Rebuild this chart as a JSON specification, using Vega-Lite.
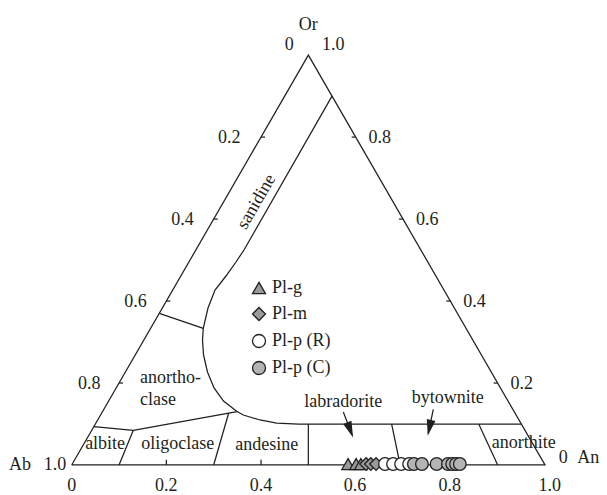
{
  "$schema": "https://vega.github.io/schema/vega-lite/v6.json",
  "width": 607,
  "height": 495,
  "autosize": "none",
  "padding": 0,
  "background": "white",
  "config": {
    "view": {"stroke": null},
    "text": {"font": "Liberation Serif", "fontSize": 18, "color": "#231f20"}
  },
  "datasets": {
    "lines": [
      {"g": "tri", "o": 1, "x": 0, "y": 0},
      {"g": "tri", "o": 2, "x": 1, "y": 0},
      {"g": "tri", "o": 3, "x": 0.5, "y": 0.866},
      {"g": "tri", "o": 4, "x": 0, "y": 0},
      {"g": "san", "o": 1, "x": 0.55, "y": 0.7794},
      {"g": "san", "o": 2, "x": 0.364, "y": 0.4543},
      {"g": "san", "o": 3, "x": 0.3471, "y": 0.4289},
      {"g": "san", "o": 4, "x": 0.326, "y": 0.3993},
      {"g": "san", "o": 5, "x": 0.3028, "y": 0.3697},
      {"g": "san", "o": 6, "x": 0.288, "y": 0.3317},
      {"g": "san", "o": 7, "x": 0.278, "y": 0.2888},
      {"g": "san", "o": 8, "x": 0.2764, "y": 0.2641},
      {"g": "san", "o": 9, "x": 0.2785, "y": 0.2324},
      {"g": "san", "o": 10, "x": 0.2869, "y": 0.1965},
      {"g": "san", "o": 11, "x": 0.3007, "y": 0.1627},
      {"g": "san", "o": 12, "x": 0.3207, "y": 0.1352},
      {"g": "san", "o": 13, "x": 0.3493, "y": 0.113},
      {"g": "san", "o": 14, "x": 0.3626, "y": 0.1056},
      {"g": "san", "o": 15, "x": 0.3978, "y": 0.0951},
      {"g": "san", "o": 16, "x": 0.4331, "y": 0.0885},
      {"g": "san", "o": 17, "x": 0.48, "y": 0.0866},
      {"g": "san", "o": 18, "x": 0.95, "y": 0.0866},
      {"g": "lb", "o": 1, "x": 0.1851, "y": 0.3205},
      {"g": "lb", "o": 2, "x": 0.278, "y": 0.2888},
      {"g": "pu", "o": 1, "x": 0.0467, "y": 0.0809},
      {"g": "pu", "o": 2, "x": 0.1302, "y": 0.0733},
      {"g": "pu", "o": 3, "x": 0.3493, "y": 0.113},
      {"g": "r1", "o": 1, "x": 0.1, "y": 0},
      {"g": "r1", "o": 2, "x": 0.1302, "y": 0.0733},
      {"g": "r2", "o": 1, "x": 0.3, "y": 0},
      {"g": "r2", "o": 2, "x": 0.3317, "y": 0.1098},
      {"g": "r3", "o": 1, "x": 0.5, "y": 0},
      {"g": "r3", "o": 2, "x": 0.5, "y": 0.0866},
      {"g": "r4", "o": 1, "x": 0.694, "y": 0},
      {"g": "r4", "o": 2, "x": 0.676, "y": 0.0866},
      {"g": "r5", "o": 1, "x": 0.9, "y": 0},
      {"g": "r5", "o": 2, "x": 0.86, "y": 0.0866},
      {"g": "a1", "o": 1, "x": 0.5739, "y": 0.112},
      {"g": "a1", "o": 2, "x": 0.5926, "y": 0.0634},
      {"g": "a2", "o": 1, "x": 0.764, "y": 0.1177},
      {"g": "a2", "o": 2, "x": 0.7534, "y": 0.067},
      {"g": "tb2", "o": 1, "x": 0.2, "y": 0},
      {"g": "tb2", "o": 2, "x": 0.2, "y": 0.011},
      {"g": "tb4", "o": 1, "x": 0.4, "y": 0},
      {"g": "tb4", "o": 2, "x": 0.4, "y": 0.011},
      {"g": "tb6", "o": 1, "x": 0.6, "y": 0},
      {"g": "tb6", "o": 2, "x": 0.6, "y": 0.011},
      {"g": "tb8", "o": 1, "x": 0.8, "y": 0},
      {"g": "tb8", "o": 2, "x": 0.8, "y": 0.011},
      {"g": "tl2", "o": 1, "x": 0.1, "y": 0.1732},
      {"g": "tl2", "o": 2, "x": 0.1085, "y": 0.1732},
      {"g": "tl4", "o": 1, "x": 0.2, "y": 0.3464},
      {"g": "tl4", "o": 2, "x": 0.2085, "y": 0.3464},
      {"g": "tl6", "o": 1, "x": 0.3, "y": 0.5196},
      {"g": "tl6", "o": 2, "x": 0.3085, "y": 0.5196},
      {"g": "tl8", "o": 1, "x": 0.4, "y": 0.6928},
      {"g": "tl8", "o": 2, "x": 0.4085, "y": 0.6928},
      {"g": "tr2", "o": 1, "x": 0.9, "y": 0.1732},
      {"g": "tr2", "o": 2, "x": 0.8915, "y": 0.1732},
      {"g": "tr4", "o": 1, "x": 0.8, "y": 0.3464},
      {"g": "tr4", "o": 2, "x": 0.7915, "y": 0.3464},
      {"g": "tr6", "o": 1, "x": 0.7, "y": 0.5196},
      {"g": "tr6", "o": 2, "x": 0.6915, "y": 0.5196},
      {"g": "tr8", "o": 1, "x": 0.6, "y": 0.6928},
      {"g": "tr8", "o": 2, "x": 0.5915, "y": 0.6928}
    ],
    "labels": [
      {"t": "Or", "x": 0.5, "y": 0.9191},
      {"t": "0", "x": 0.4595, "y": 0.8768},
      {"t": "1.0", "x": 0.5527, "y": 0.8768},
      {"t": "0.2", "x": 0.333, "y": 0.68},
      {"t": "0.4", "x": 0.234, "y": 0.5066},
      {"t": "0.6", "x": 0.135, "y": 0.3334},
      {"t": "0.8", "x": 0.037, "y": 0.1602},
      {"t": "1.0", "x": -0.0353, "y": -0.0106},
      {"t": "Ab", "x": -0.1092, "y": -0.0106},
      {"t": "0.8", "x": 0.651, "y": 0.68},
      {"t": "0.6", "x": 0.751, "y": 0.5066},
      {"t": "0.4", "x": 0.851, "y": 0.3334},
      {"t": "0.2", "x": 0.951, "y": 0.1602},
      {"t": "0", "x": 1.0387, "y": 0.0036},
      {"t": "An", "x": 1.0915, "y": 0.0036},
      {"t": "0", "x": 0, "y": -0.0549},
      {"t": "0.2", "x": 0.2, "y": -0.0549},
      {"t": "0.4", "x": 0.4, "y": -0.0549},
      {"t": "0.6", "x": 0.5986, "y": -0.0549},
      {"t": "0.8", "x": 0.799, "y": -0.0549},
      {"t": "1.0", "x": 1.01, "y": -0.0549},
      {"t": "albite", "x": 0.0706, "y": 0.0332},
      {"t": "oligoclase", "x": 0.2242, "y": 0.0332},
      {"t": "andesine", "x": 0.412, "y": 0.0317},
      {"t": "labradorite", "x": 0.5738, "y": 0.1232},
      {"t": "bytownite", "x": 0.7946, "y": 0.1304},
      {"t": "anorthite", "x": 0.955, "y": 0.0353}
    ],
    "leftLabels": [
      {"t": "anortho-", "x": 0.1443, "y": 0.1726},
      {"t": "clase", "x": 0.1443, "y": 0.1268}
    ],
    "points": [
      {"type": "Pl-g", "x": 0.584, "y": 0.002},
      {"type": "Pl-g", "x": 0.601, "y": 0.002},
      {"type": "Pl-g", "x": 0.611, "y": 0.002},
      {"type": "Pl-m", "x": 0.622, "y": 0.002},
      {"type": "Pl-m", "x": 0.632, "y": 0.002},
      {"type": "Pl-m", "x": 0.643, "y": 0.002},
      {"type": "Pl-p (R)", "x": 0.662, "y": 0.002},
      {"type": "Pl-p (R)", "x": 0.679, "y": 0.002},
      {"type": "Pl-p (R)", "x": 0.696, "y": 0.002},
      {"type": "Pl-p (R)", "x": 0.713, "y": 0.002},
      {"type": "Pl-p (C)", "x": 0.723, "y": 0.002},
      {"type": "Pl-p (C)", "x": 0.74, "y": 0.002},
      {"type": "Pl-p (C)", "x": 0.771, "y": 0.002},
      {"type": "Pl-p (C)", "x": 0.795, "y": 0.002},
      {"type": "Pl-p (C)", "x": 0.804, "y": 0.002},
      {"type": "Pl-p (C)", "x": 0.812, "y": 0.002},
      {"type": "Pl-p (C)", "x": 0.82, "y": 0.002}
    ]
  },
  "encoding": {
    "x": {"field": "x", "type": "quantitative", "scale": {"domain": [-0.15149, 1.131], "nice": false, "zero": false}, "axis": null},
    "y": {"field": "y", "type": "quantitative", "scale": {"domain": [-0.06339, 0.98246], "nice": false, "zero": false}, "axis": null}
  },
  "layer": [
    {
      "data": {"name": "lines"},
      "mark": {"type": "line", "color": "#231f20", "strokeWidth": 1.25},
      "encoding": {
        "detail": {"field": "g", "type": "nominal"},
        "order": {"field": "o", "type": "quantitative"}
      }
    },
    {
      "data": {"values": [{"x": 0.5884, "y": 0.0741}]},
      "mark": {"type": "point", "shape": "M-0.55,-1L0.55,-1L0,1Z", "filled": true, "color": "#231f20", "size": 260, "angle": 339, "opacity": 1}
    },
    {
      "data": {"values": [{"x": 0.7558, "y": 0.0784}]},
      "mark": {"type": "point", "shape": "M-0.55,-1L0.55,-1L0,1Z", "filled": true, "color": "#231f20", "size": 260, "angle": 12, "opacity": 1}
    },
    {
      "data": {"name": "labels"},
      "mark": {"type": "text", "align": "center", "baseline": "alphabetic", "font": "Liberation Serif", "fontSize": 18},
      "encoding": {"text": {"field": "t", "type": "nominal"}}
    },
    {
      "data": {"name": "leftLabels"},
      "mark": {"type": "text", "align": "left", "baseline": "alphabetic", "font": "Liberation Serif", "fontSize": 18},
      "encoding": {"text": {"field": "t", "type": "nominal"}}
    },
    {
      "data": {"values": [{"t": "sanidine", "x": 0.3909, "y": 0.5563}]},
      "mark": {"type": "text", "align": "center", "baseline": "middle", "angle": 300, "font": "Liberation Serif", "fontSize": 18},
      "encoding": {"text": {"field": "t", "type": "nominal"}}
    },
    {
      "data": {"name": "points"},
      "mark": {"type": "point", "filled": true, "opacity": 1, "size": 160},
      "encoding": {
        "stroke": {"value": "#231f20"},
        "shape": {
          "field": "type", "type": "nominal",
          "scale": {"domain": ["Pl-g", "Pl-m", "Pl-p (R)", "Pl-p (C)"], "range": ["triangle-up", "diamond", "circle", "circle"]},
          "legend": {
            "orient": "none", "legendX": 250, "legendY": 279, "title": null,
            "labelFont": "Liberation Serif", "labelFontSize": 18, "labelColor": "#231f20",
            "symbolSize": 170, "rowPadding": 7, "labelOffset": 4, "symbolOpacity": 1,
            "encode": {"symbols": {"update": {"stroke": {"value": "#231f20"}, "opacity": {"value": 1}}}}
          }
        },
        "fill": {
          "field": "type", "type": "nominal",
          "scale": {"domain": ["Pl-g", "Pl-m", "Pl-p (R)", "Pl-p (C)"], "range": ["#9a9a9a", "#9a9a9a", "#ffffff", "#b4b4b4"]}
        },
        "strokeWidth": {
          "field": "type", "type": "nominal",
          "scale": {"domain": ["Pl-g", "Pl-m", "Pl-p (R)", "Pl-p (C)"], "range": [1.3, 1.3, 2.2, 1.5]}
        }
      }
    }
  ]
}
